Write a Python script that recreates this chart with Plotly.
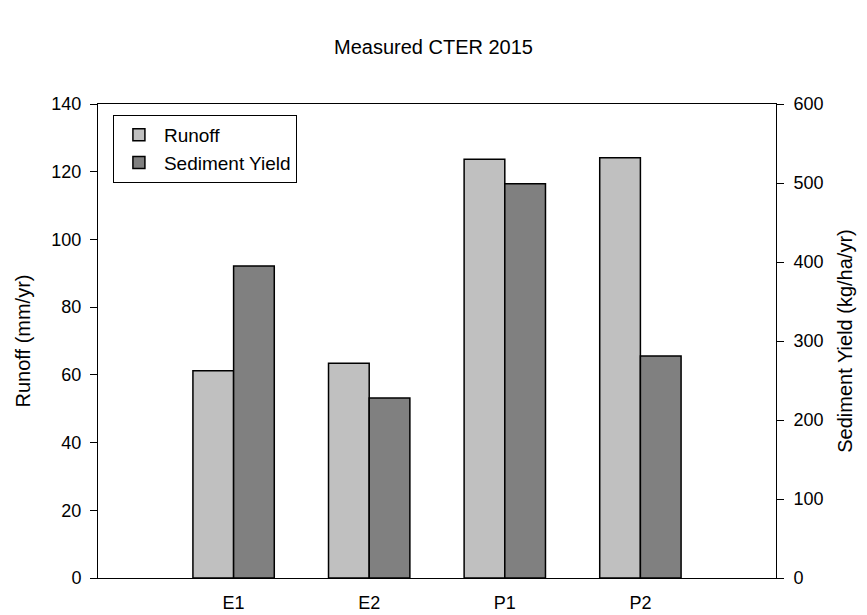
import plotly.graph_objects as go

categories = ["E1", "E2", "P1", "P2"]
runoff = [61.2, 63.4, 123.7, 124.1]
sediment = [395, 228, 499, 281]
left_ticks = [0, 20, 40, 60, 80, 100, 120, 140]
right_ticks = [0, 100, 200, 300, 400, 500, 600]

FONT = "Arial, 'Liberation Sans', sans-serif"

fig = go.Figure()
fig.add_trace(go.Bar(
    x=categories, y=runoff, name="Runoff",
    width=0.3, offset=-0.3,
    marker=dict(color="#c0c0c0", line=dict(color="black", width=1.5)),
    yaxis="y",
))
fig.add_trace(go.Bar(
    x=categories, y=sediment, name="Sediment Yield",
    width=0.3, offset=0.0,
    marker=dict(color="#808080", line=dict(color="black", width=1.5)),
    yaxis="y2",
))

fig.update_layout(
    width=867, height=615,
    margin=dict(l=98, r=91, t=104, b=37),
    paper_bgcolor="white", plot_bgcolor="white",
    font=dict(family=FONT, size=18, color="black"),
    title=dict(text="Measured CTER 2015", x=0.5, xanchor="center",
               y=1 - 47 / 615, yanchor="middle",
               font=dict(family=FONT, size=20, color="black")),
    showlegend=True,
    legend=dict(x=0.022, y=0.977, xanchor="left", yanchor="top",
                bgcolor="white", bordercolor="black", borderwidth=1,
                font=dict(family=FONT, size=19, color="black"),
                itemwidth=40, traceorder="normal"),
    xaxis=dict(
        type="category", range=[-1, 4], automargin=False,
        showline=True, linecolor="black", linewidth=1, mirror=True,
        ticks="", showgrid=False, zeroline=False,
        ticklabelstandoff=8,
        tickfont=dict(family=FONT, size=18),
    ),
    yaxis=dict(
        range=[0, 140], tickvals=left_ticks, automargin=False,
        showline=True, linecolor="black", linewidth=1,
        ticks="outside", ticklen=7, tickwidth=1, tickcolor="black",
        ticklabelstandoff=5,
        showgrid=False, zeroline=False,
        title=dict(text="Runoff (mm/yr)", font=dict(family=FONT, size=20)),
    ),
    yaxis2=dict(
        range=[0, 600], tickvals=right_ticks, overlaying="y", side="right",
        automargin=False,
        showline=True, linecolor="black", linewidth=1,
        ticks="outside", ticklen=7, tickwidth=1, tickcolor="black",
        ticklabelstandoff=6,
        showgrid=False, zeroline=False,
        title=dict(text="Sediment Yield (kg/ha/yr)", font=dict(family=FONT, size=20)),
    ),
)

fig.write_html("out.html")
